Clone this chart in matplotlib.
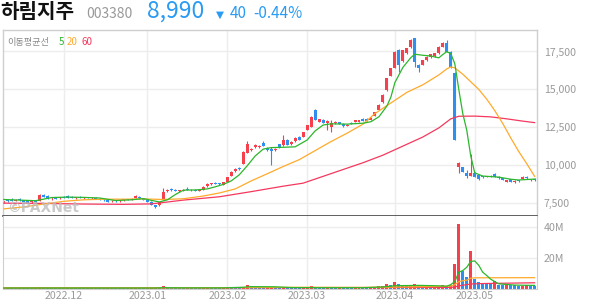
#!/usr/bin/env python3
"""Harim Holdings daily candle chart with moving averages and volume."""

import numpy as np
import matplotlib
matplotlib.use("Agg")
import matplotlib.pyplot as plt

plt.rcParams["font.family"] = ["Noto Sans CJK KR", "DejaVu Sans"]

# ---- data ----
opens = [
    7560, 7700, 7680, 7650, 7760, 7680, 7600, 7540, 7620, 7620,
    8000, 7950, 7800, 7840, 7800, 7880, 7950, 7880, 7830, 7880,
    7820, 7860, 7800, 7840, 7760, 7720, 7700, 7600, 7640, 7620,
    7700, 7720, 7720, 7820, 7900, 7780, 7700, 7560, 7340, 7360,
    7700, 8260, 8420, 8360, 8280, 8300, 8400, 8320, 8380, 8300,
    8360, 8600, 8740, 8820, 8780, 8700, 8900, 9300, 9600, 9820,
    10080, 10800, 10960, 11180, 11160, 11480, 11140, 11050, 10960, 11380,
    11300, 11640, 11360, 11560, 11840, 11860, 12320, 12520, 13640, 12860,
    12980, 12760, 12520, 12780, 12840, 12720, 12600, 12800, 12850, 12860,
    13060, 13040, 12980, 13240, 13640, 14160, 14960, 15900, 16440, 17600,
    16850, 17380, 17780, 18380, 16610, 16610, 16940, 17120, 17200, 17380,
    17820, 18040, 17460, 16080, 9850, 9850, 9470, 9290, 9490, 9340,
    9260, 9200, 9270, 9400, 9230, 9140, 8880, 9050, 8880, 9000,
    9100, 9230, 8980, 9080,
]
highs = [
    7650, 7760, 7800, 7750, 7830, 7720, 7650, 7650, 7700, 8100,
    8060, 8000, 7880, 7900, 7880, 7980, 8000, 7950, 7900, 7920,
    7880, 7900, 7880, 7880, 7800, 7760, 7740, 7660, 7680, 7700,
    7760, 7780, 7800, 8020, 7940, 7820, 7740, 7600, 7380, 7580,
    8480, 8420, 8480, 8400, 8360, 8420, 8540, 8420, 8400, 8380,
    8620, 8820, 8840, 8860, 8820, 8900, 9220, 9620, 9780, 9860,
    10900, 11600, 11100, 11420, 11300, 11560, 11200, 11200, 11100, 11420,
    12000, 11700, 11600, 11820, 11900, 12200, 12660, 13240, 13700, 13060,
    13020, 12980, 12980, 12900, 12860, 12760, 12700, 12840, 13000, 13000,
    13100, 13100, 13160, 13520, 14000, 14660, 15760, 16420, 17500, 17680,
    17620, 17720, 18300, 18400, 16650, 16960, 17180, 17360, 17400, 17850,
    18100, 18260, 17500, 16120, 10220, 9900, 9670, 10730, 9560, 9360,
    9300, 9300, 9320, 9490, 9260, 9160, 9020, 9070, 9010, 9040,
    9240, 9250, 9100, 9120,
]
lows = [
    7500, 7560, 7620, 7600, 7650, 7550, 7480, 7500, 7560, 7600,
    7880, 7780, 7720, 7760, 7740, 7800, 7820, 7800, 7780, 7800,
    7760, 7800, 7760, 7740, 7680, 7640, 7560, 7540, 7560, 7580,
    7640, 7680, 7700, 7800, 7780, 7680, 7540, 7340, 7150, 7320,
    7680, 8200, 8300, 8260, 8240, 8280, 8320, 8300, 8280, 8260,
    8340, 8560, 8700, 8720, 8680, 8680, 8880, 9280, 9560, 9700,
    10040, 10760, 10900, 11150, 11120, 11240, 10940, 10000, 10900, 11100,
    11280, 11300, 11320, 11540, 11640, 11840, 12300, 12500, 12960, 12820,
    12760, 12300, 12180, 12740, 12700, 12540, 12580, 12700, 12820, 12840,
    12880, 12900, 12960, 13220, 13620, 14120, 14920, 15860, 16400, 16150,
    16800, 17340, 17740, 16500, 16170, 16580, 16900, 17100, 17160, 17360,
    17800, 17440, 16400, 11650, 9450, 9540, 9120, 9260, 9200, 9000,
    9160, 9180, 9190, 9220, 9100, 9000, 8860, 8880, 8840, 8900,
    9080, 9100, 8960, 8960,
]
closes = [
    7620, 7600, 7640, 7720, 7680, 7580, 7520, 7620, 7580, 8050,
    7900, 7800, 7840, 7780, 7860, 7830, 7850, 7820, 7880, 7820,
    7860, 7840, 7850, 7760, 7720, 7660, 7580, 7620, 7600, 7680,
    7720, 7700, 7780, 7960, 7800, 7700, 7580, 7380, 7200, 7540,
    8200, 8380, 8340, 8300, 8320, 8380, 8340, 8380, 8300, 8360,
    8560, 8760, 8800, 8760, 8720, 8860, 9180, 9560, 9720, 9740,
    10840, 11420, 11060, 11300, 11240, 11260, 10960, 10920, 11080, 11140,
    11620, 11340, 11540, 11780, 11660, 12180, 12640, 13180, 12980, 13040,
    12800, 12900, 12780, 12860, 12720, 12580, 12660, 12720, 12980, 12980,
    12900, 12920, 13120, 13480, 13960, 14620, 15720, 16380, 17450, 16610,
    17580, 17700, 18260, 16830, 16390, 16940, 17160, 17340, 17380, 17800,
    18080, 17480, 16480, 11650, 10110, 9560, 9290, 9450, 9230, 9060,
    9200, 9270, 9210, 9230, 9120, 9010, 9000, 8900, 8960, 8920,
    9230, 9120, 9030, 8990,
]
volume_m = [
    0.3, 0.4, 0.3, 0.3, 0.4, 0.3, 0.3, 0.2, 0.3, 0.8,
    0.5, 0.4, 0.3, 0.3, 0.3, 0.3, 0.4, 0.3, 0.3, 0.3,
    0.3, 0.2, 0.3, 0.3, 0.3, 0.3, 0.4, 0.3, 0.3, 0.3,
    0.3, 0.2, 0.3, 0.6, 0.4, 0.3, 0.4, 0.5, 0.6, 0.5,
    1.3, 0.6, 0.5, 0.4, 0.3, 0.3, 0.4, 0.3, 0.3, 0.3,
    0.5, 0.7, 0.5, 0.4, 0.4, 0.5, 1.0, 0.9, 0.8, 0.7,
    1.2, 2.0, 1.6, 1.0, 0.9, 0.8, 0.9, 1.2, 0.8, 0.7,
    1.1, 0.7, 0.6, 0.6, 0.5, 1.0, 1.1, 1.4, 1.2, 0.7,
    0.6, 0.8, 0.8, 0.5, 0.9, 0.6, 0.5, 0.5, 0.6, 0.7,
    0.6, 0.5, 0.7, 1.0, 1.4, 1.8, 3.0, 2.5, 4.0, 2.6,
    2.2, 1.8, 2.3, 3.2, 1.8, 1.6, 1.7, 1.5, 1.6, 1.8,
    2.1, 1.9, 2.3, 16.0, 41.7, 11.6, 7.7, 24.5, 6.2, 4.0,
    3.8, 3.6, 3.4, 5.0, 2.5, 2.3, 2.4, 2.3, 2.0, 1.8,
    1.9, 2.0, 1.8, 1.7,
]

# moving averages, sampled at these bar indices
ma5_x = [0, 4, 8, 12, 16, 20, 24, 28, 32, 35, 37, 39, 41, 43, 45, 48, 51, 53,
         55, 57, 59, 61, 63, 65, 67, 70, 73, 76, 78, 80, 82, 86, 90, 92, 94,
         96, 97, 98, 100, 102, 103, 105, 107, 109, 110, 111, 112, 113, 114,
         115, 116, 117, 118, 120, 124, 127, 129, 131, 133]
ma5_y = [7720, 7680, 7640, 7850, 7880, 7860, 7820, 7650, 7700, 7780, 7660,
         7560, 7700, 8050, 8340, 8350, 8420, 8560, 8720, 8950, 9350, 9950,
         10600, 11050, 11150, 11170, 11200, 11650, 12250, 12640, 12720, 12700,
         12760, 12860, 13190, 13900, 14500, 15450, 16450, 17100, 17320, 17250,
         17200, 17080, 17300, 17490, 17350, 16700, 15000, 13400, 12300, 10600,
         9480, 9270, 9200, 9060, 9010, 9040, 9070]
ma20_x = [0, 5, 10, 15, 20, 25, 30, 35, 40, 45, 50, 54, 58, 62, 66, 70, 74,
          78, 82, 86, 90, 93, 97, 101, 105, 109, 111, 112, 113, 115, 117, 119,
          121, 123, 125, 127, 129, 131, 133]
ma20_y = [7100, 7230, 7420, 7600, 7700, 7740, 7740, 7760, 7720, 7770, 7950,
          8150, 8420, 8950, 9420, 9900, 10350, 10950, 11550, 12100, 12700,
          13400, 14100, 14800, 15300, 15950, 16350, 16480, 16420, 16000, 15500,
          15000, 14350, 13600, 12750, 11800, 10900, 10100, 9250]
ma60_x = [0, 10, 20, 30, 37, 45, 54, 62, 70, 75, 80, 85, 90, 95, 100, 105,
          109, 112, 114, 118, 122, 126, 130, 133]
ma60_y = [7480, 7460, 7420, 7400, 7430, 7680, 7900, 8240, 8600, 8800, 9250,
          9700, 10150, 10650, 11250, 11850, 12450, 13050, 13220, 13230, 13180,
          13050, 12900, 12800]

vma5_x = [0, 38, 40, 45, 55, 60, 62, 68, 72, 80, 90, 95, 98, 104, 108, 111,
          112, 113, 114, 115, 116, 117, 118, 119, 120, 121, 122, 123, 124, 126,
          128, 133]
vma5_y = [0.3, 0.3, 0.5, 0.4, 0.4, 0.8, 1.2, 1.1, 0.6, 0.5, 0.5, 1.0, 1.8,
          2.0, 1.8, 1.5, 2.5, 4.5, 10.5, 11.6, 13.7, 17.5, 17.8, 15.0, 10.5,
          8.4, 6.0, 4.5, 3.0, 2.6, 2.2, 2.0]
vma20_x = [0, 40, 60, 75, 90, 100, 110, 112, 113, 114, 115, 116, 117, 118, 133]
vma20_y = [0.4, 0.45, 0.6, 0.8, 0.7, 1.0, 1.4, 1.6, 2.4, 4.4, 5.0, 5.4, 6.6,
           6.9, 7.0]
vma60_x = [0, 60, 110, 112, 113, 114, 117, 120, 133]
vma60_y = [0.4, 0.5, 0.7, 0.7, 1.0, 1.7, 2.9, 3.2, 3.7]

month_pos = [15, 36, 56, 76, 98, 118]
month_labels = ["2022.12", "2023.01", "2023.02", "2023.03", "2023.04", "2023.05"]
price_ticks = [7500, 10000, 12500, 15000, 17500]
vol_ticks = [20, 40]

RED = "#f5414d"
BLUE = "#2e8ff0"
GREEN = "#2cb72c"
ORANGE = "#ffaa2b"
PINK = "#f5385e"
GRID = "#ededed"
LABEL = "#9a9a9a"

W, H = 594, 304


def px(x, y):
    return x / W, 1 - y / H


def main():
    fig = plt.figure(figsize=(W / 100, H / 100), dpi=100)
    fig.patch.set_facecolor("white")

    left, right = 3, 537
    ax = fig.add_axes([left / W, 1 - 216 / H, (right - left) / W, 186 / H])
    vax = fig.add_axes([left / W, 1 - 288.5 / H, (right - left) / W, 72.5 / H], sharex=ax)

    o = np.array(opens); h = np.array(highs); l = np.array(lows); c = np.array(closes)
    idx = np.arange(len(o))
    colors = np.where(c >= o, RED, BLUE)

    # candles
    ax.vlines(idx, l, h, colors=colors, lw=0.8, zorder=2)
    ax.bar(idx, np.maximum(np.abs(c - o), 45), bottom=np.minimum(o, c),
           width=0.75, color=colors, lw=0, zorder=2)

    ax.plot(ma60_x, ma60_y, color=PINK, lw=0.9, zorder=3)
    ax.plot(ma20_x, ma20_y, color=ORANGE, lw=0.9, zorder=3)
    ax.plot(ma5_x, ma5_y, color=GREEN, lw=0.9, zorder=3)

    ax.set_xlim(-0.2, 133.6)
    ax.set_ylim(6630, 18920)
    ax.set_yticks(price_ticks)
    ax.set_yticklabels([f"{v:,}" for v in price_ticks])
    ax.yaxis.tick_right()
    ax.tick_params(axis="y", length=0, pad=5, labelsize=7.6, labelcolor=LABEL)
    ax.tick_params(axis="x", length=0, labelbottom=False)
    ax.set_xticks(month_pos)
    ax.grid(True, color=GRID, lw=1, zorder=0)
    ax.set_axisbelow(True)
    for s in ("top", "left", "right"):
        ax.spines[s].set_color("#cfcfcf")
        ax.spines[s].set_linewidth(1)
    ax.spines["bottom"].set_color("#444444")
    ax.spines["bottom"].set_linewidth(1.2)

    # volume
    v = np.array(volume_m)
    vcol = [RED] + [RED if v[i] > v[i - 1] else BLUE for i in range(1, len(v))]
    vax.bar(idx, v, width=0.75, color=vcol, lw=0, zorder=2)
    vax.plot(vma60_x, vma60_y, color=PINK, lw=0.9, zorder=3)
    vax.plot(vma20_x, vma20_y, color=ORANGE, lw=0.9, zorder=3)
    vax.plot(vma5_x, vma5_y, color=GREEN, lw=0.9, zorder=3)
    vax.set_ylim(0, 46.8)
    vax.set_yticks(vol_ticks)
    vax.set_yticklabels([f"{t}M" for t in vol_ticks])
    vax.yaxis.tick_right()
    vax.tick_params(axis="y", length=0, pad=5, labelsize=7.6, labelcolor=LABEL)
    vax.set_xticks(month_pos)
    vax.set_xticklabels(month_labels)
    vax.tick_params(axis="x", length=0, pad=1.5, labelsize=7.6, labelcolor=LABEL)
    vax.grid(True, color=GRID, lw=1, zorder=0)
    vax.set_axisbelow(True)
    for s in ("top", "left", "right", "bottom"):
        vax.spines[s].set_color("#cfcfcf")
    vax.spines["top"].set_visible(False)

    # header
    fig.text(*px(0, 17.5), "하림지주", fontsize=14.5, fontweight="bold",
             color="#111111", va="baseline")
    fig.text(*px(86, 17.5), "003380", fontsize=10, color="#999999", va="baseline")
    fig.text(*px(147, 17.5), "8,990", fontsize=16.5, color="#2a9bf2", va="baseline")
    fig.text(*px(216, 17.5), "▼", fontsize=7.5, color="#2a9bf2", va="baseline",
             family=["DejaVu Sans"])
    fig.text(*px(230, 17.5), "40", fontsize=11, color="#2a9bf2", va="baseline")
    fig.text(*px(253, 17.5), "-0.44%", fontsize=11, color="#2a9bf2", va="baseline")

    # moving average legend
    fig.text(*px(7, 42), "이동평균선", fontsize=6.6, color="#888888", va="center")
    fig.text(*px(59, 42), "5", fontsize=7, color=GREEN, va="center")
    fig.text(*px(67, 42), "20", fontsize=7, color=ORANGE, va="center")
    fig.text(*px(82, 42), "60", fontsize=7, color=PINK, va="center")

    # watermark
    fig.text(*px(7, 208), "©PAXNet", fontsize=10, fontweight="bold",
             color="#bdbdbd", alpha=0.8, va="center", family=["DejaVu Sans"])

    fig.savefig("out.png", dpi=100, facecolor="white")


if __name__ == "__main__":
    main()
